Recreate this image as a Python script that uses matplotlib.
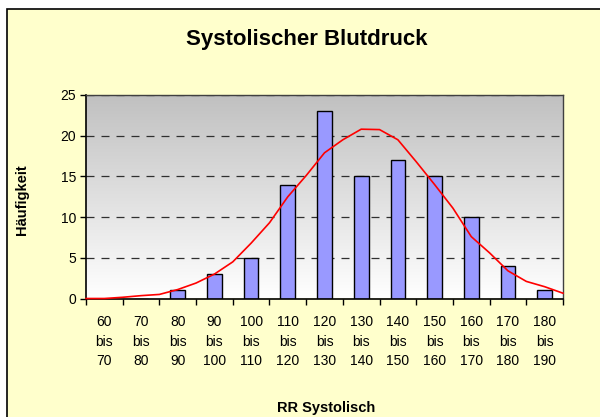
import matplotlib
matplotlib.use("Agg")
import matplotlib.pyplot as plt
import numpy as np
from matplotlib.patches import Rectangle
from matplotlib.colors import LinearSegmentedColormap

plt.rcParams['font.family'] = ['Liberation Sans', 'DejaVu Sans']

categories = ["60\nbis\n70", "70\nbis\n80", "80\nbis\n90", "90\nbis\n100", "100\nbis\n110",
              "110\nbis\n120", "120\nbis\n130", "130\nbis\n140", "140\nbis\n150", "150\nbis\n160",
              "160\nbis\n170", "170\nbis\n180", "180\nbis\n190"]
counts = [0, 0, 1, 3, 5, 14, 23, 15, 17, 15, 10, 4, 1]
# Red fitted curve, read at half-category steps from left edge to right edge
curve_vals = [0, 0, 0.15, 0.35, 0.5, 1.1, 1.9, 3.0, 4.5, 6.8, 9.3, 12.5, 15.1, 17.9,
              19.5, 20.8, 20.75, 19.5, 16.8, 14.0, 11.1, 7.6, 5.6, 3.4, 2.1, 1.45, 0.65]
yticks = [0, 5, 10, 15, 20, 25]

W, H = 600, 417
fig = plt.figure(figsize=(W / 100, H / 100), dpi=100)
fig.patch.set_facecolor('white')

# chart area background with border
bgax = fig.add_axes([0, 0, 1, 1])
bgax.set_axis_off()
bgax.set_zorder(0)
bgax.set_xlim(0, W)
bgax.set_ylim(H, 0)
bgax.add_patch(Rectangle((7, 9), W + 20, H + 20, facecolor='#FFFFCC',
                         edgecolor='black', linewidth=1.2))

ax = fig.add_axes([86 / W, (H - 298.5) / H, 477 / W, 203.5 / H])
ax.set_zorder(1)
ax.set_facecolor('none')

n = len(categories)
ax.set_xlim(-0.5, n - 0.5)
ax.set_ylim(0, 25)

# gradient background
grad = np.linspace(0, 1, 256).reshape(-1, 1)
cmap = LinearSegmentedColormap.from_list('g', ['#FFFFFF', '#C0C0C0'])
ax.imshow(grad, aspect='auto', cmap=cmap, origin='lower',
          extent=[-0.5, n - 0.5, 0, 25], zorder=0)

# gridlines
for yv in yticks[1:]:
    ax.axhline(yv, color='#303030', linestyle=(0, (6.4, 5.6)), linewidth=0.9, zorder=1)

x = np.arange(n)
ax.bar(x, counts, width=0.4, color='#9999FF', edgecolor='black', linewidth=1.0, zorder=2)

cx = -0.5 + 0.5 * np.arange(len(curve_vals))
ax.plot(cx, curve_vals, color='red', linewidth=1.2, zorder=3, clip_on=False)

ax.set_xticks(x)
ax.set_xticklabels(categories, fontsize=10, linespacing=1.5)
ax.tick_params(axis='x', which='major', length=0, pad=12)
ax.set_xticks(np.arange(-0.5, n, 1.0), minor=True)
ax.tick_params(axis='x', which='minor', length=4, width=1, direction='out')
ax.set_yticks(yticks)
ax.set_yticklabels([str(v) for v in yticks], fontsize=10)
ax.tick_params(axis='y', length=4, width=1, pad=3)

for s in ['left', 'bottom']:
    ax.spines[s].set_color('black')
    ax.spines[s].set_linewidth(1.2)
for s in ['top', 'right']:
    ax.spines[s].set_color('#404040')
    ax.spines[s].set_linewidth(1.0)

fig.text(307 / W, 1 - 39 / H, "Systolischer Blutdruck", fontsize=16, fontweight='bold',
         ha='center', va='center', zorder=2)
fig.text(326 / W, 1 - 408 / H, "RR Systolisch", fontsize=10.5, fontweight='bold',
         ha='center', va='center', zorder=2)
fig.text(22 / W, 1 - 199.5 / H, "Häufigkeit", fontsize=10.5, fontweight='bold',
         ha='center', va='center', rotation=90, zorder=2)

fig.savefig('out.png', dpi=100)
